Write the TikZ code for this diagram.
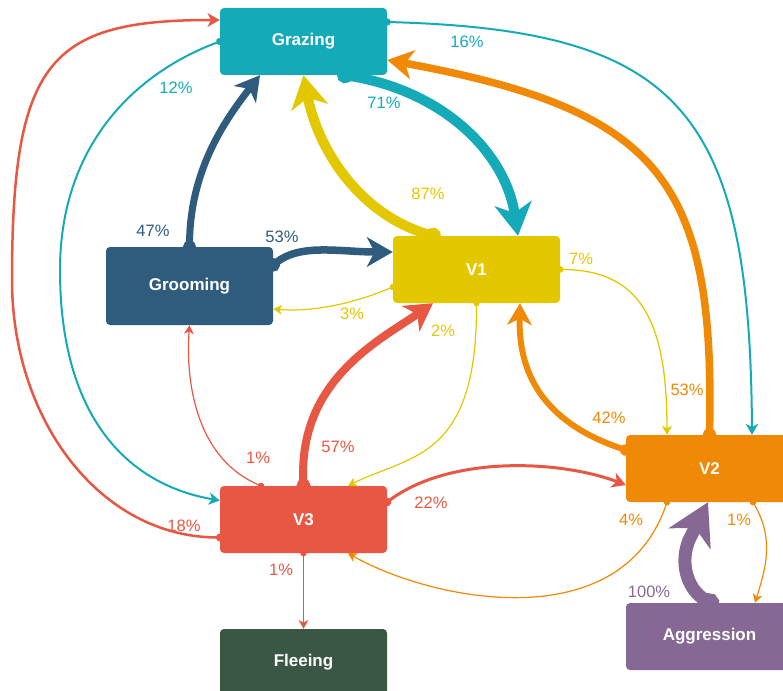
\documentclass[tikz,border=0pt]{standalone}
\usepackage{fontspec}
\setmainfont{Liberation Sans}
\usetikzlibrary{arrows.meta,positioning,calc}

\definecolor{grazecol}{HTML}{15AAB8}
\definecolor{groomcol}{HTML}{2F5B7C}
\definecolor{vonecol}{HTML}{E3C800}
\definecolor{vtwocol}{HTML}{F08A06}
\definecolor{vthreecol}{HTML}{E85743}
\definecolor{fleecol}{HTML}{3A5645}
\definecolor{aggrcol}{HTML}{856893}

\begin{document}
\begin{tikzpicture}[
    x=1pt, y=-1pt,
    state/.style={
        rounded corners=4pt,
        align=center,
        inner sep=0pt,
        minimum width=167pt,
        minimum height=67pt,
        text=white,
        font=\fontsize{17}{20}\selectfont\bfseries
    },
    pct/.style={
        font=\fontsize{16.5}{19}\selectfont
    },
    flow/.style={
        line width=#1pt,
        shorten <=-2.5pt-0.55*#1pt,
        {Circle[length=5pt 1.1]}-{Stealth[length=5.5pt 2.7, width=6pt 3.1, inset=1.5pt 0.8]}
    }
]

\useasboundingbox (0,0) rectangle (783,690);
\clip (0,0) rectangle (783,690);

% ------------------------------------------------
% Behaviours
% ------------------------------------------------

\node[state, fill=grazecol] (grazing) at (303.5, 41.5) {Grazing};
\node[state, fill=groomcol, minimum height=78pt] (grooming) at (189.5, 286) {Grooming};
\node[state, fill=vonecol] (v1) at (476.5, 269.5) {V1};
\node[state, fill=vtwocol] (v2) at (709.5, 468.5) {V2};
\node[state, fill=vthreecol] (v3) at (303.5, 519.5) {V3};
\node[state, fill=fleecol] (fleeing) at (303.5, 662.5) {Fleeing};
\node[state, fill=aggrcol] (aggression) at (709.5, 636.5) {Aggression};

% ------------------------------------------------
% Transitions from Grazing
% ------------------------------------------------

\draw[flow=2, grazecol]
    (grazing.west)
    .. controls (130,75) and (60,150) .. (60,270)
    .. controls (60,420) and (130,485) .. ([yshift=19pt]v3.west);
\draw[flow=2, grazecol]
    ([yshift=19.5pt]grazing.east)
    .. controls (680,30) and (750,110) .. ([xshift=42.5pt]v2.north);
\draw[flow=10, grazecol]
    ([xshift=41.5pt]grazing.south)
    .. controls (440,90) and (505,150) .. ([xshift=41.5pt]v1.north);

% ------------------------------------------------
% Transitions from Grooming
% ------------------------------------------------

\draw[flow=7, groomcol]
    (grooming.north)
    .. controls (190,170) and (225,120) .. ([xshift=-43.5pt]grazing.south);
\draw[flow=7.5, groomcol]
    ([yshift=21pt]grooming.east)
    .. controls (300,243) and (340,252) .. ([yshift=17.5pt]v1.west);

% ------------------------------------------------
% Transitions from V1
% ------------------------------------------------

\draw[flow=10, vonecol]
    ([xshift=-43.5pt]v1.north)
    .. controls (360,215) and (318,150) .. (grazing.south);
\draw[flow=1.2, vonecol]
    ([yshift=-17.5pt]v1.west)
    .. controls (350,305) and (310,312) .. ([yshift=-23pt]grooming.east);
\draw[flow=1.2, vonecol]
    (v1.south)
    .. controls (477,460) and (410,455) .. ([xshift=44.5pt]v3.north);
\draw[flow=1.3, vonecol]
    (v1.east)
    .. controls (640,270) and (667,320) .. ([xshift=-42.5pt]v2.north);

% ------------------------------------------------
% Transitions from V2
% ------------------------------------------------

\draw[flow=7.5, vtwocol]
    (v2.north)
    .. controls (715,180) and (660,110) .. ([yshift=-18.5pt]grazing.east);
\draw[flow=6, vtwocol]
    ([yshift=18.5pt]v2.west)
    .. controls (550,425) and (518,380) .. ([xshift=43.5pt]v1.south);
\draw[flow=1.2, vtwocol]
    ([xshift=-42.5pt]v2.south)
    .. controls (620,640) and (430,600) .. ([xshift=44.5pt]v3.south);
\draw[flow=1.2, vtwocol]
    ([xshift=43.5pt]v2.south)
    .. controls (775,540) and (765,570) .. ([xshift=45.5pt]aggression.north);

% ------------------------------------------------
% Transitions from V3
% ------------------------------------------------

\draw[flow=8, vthreecol]
    (v3.north)
    .. controls (298,380) and (380,340) .. ([xshift=-43.5pt]v1.south);
\draw[flow=1.2, vthreecol]
    ([xshift=-42.5pt]v3.north)
    .. controls (200,460) and (185,390) .. (grooming.south);
\draw[flow=3, vthreecol]
    ([yshift=17.5pt]v3.east)
    .. controls (450,455) and (560,460) .. ([yshift=-16.5pt]v2.west);
\draw[flow=2.5, vthreecol]
    ([yshift=-18pt]v3.west)
    .. controls (100,537) and (12,420) .. (12,280)
    .. controls (12,60) and (50,20) .. ([yshift=21.5pt]grazing.west);
\draw[flow=1.2, vthreecol] (v3.south) -- (fleeing.north);

% ------------------------------------------------
% Transitions from Aggression
% ------------------------------------------------

\draw[flow=13, aggrcol]
    (aggression.north)
    .. controls (686,588) and (680,562) .. (689,540)
    -- ([xshift=-1.5pt]v2.south);

% ------------------------------------------------
% Percentages
% ------------------------------------------------

\node[pct, text=grazecol] (pa) at (176,88) {12\%};
\node[pct, text=grazecol] (pb) at (467,42) {16\%};
\node[pct, text=grazecol] (pc) at (384,103) {71\%};
\node[pct, text=groomcol] (pd) at (153,231) {47\%};
\node[pct, text=groomcol] (pe) at (282,237) {53\%};
\node[pct, text=vonecol] (pf) at (428,194) {87\%};
\node[pct, text=vonecol] (pg) at (352,314) {3\%};
\node[pct, text=vonecol] (ph) at (443,331) {2\%};
\node[pct, text=vonecol] (pi) at (581,259) {7\%};
\node[pct, text=vtwocol] (pj) at (687,390) {53\%};
\node[pct, text=vtwocol] (pk) at (609,418) {42\%};
\node[pct, text=vtwocol] (pl) at (631,520) {4\%};
\node[pct, text=vtwocol] (pm) at (739,520) {1\%};
\node[pct, text=vthreecol] (pn) at (338,447) {57\%};
\node[pct, text=vthreecol] (po) at (258,458) {1\%};
\node[pct, text=vthreecol] (pp) at (431,503) {22\%};
\node[pct, text=vthreecol] (pq) at (184,526) {18\%};
\node[pct, text=vthreecol] (pr) at (281,570) {1\%};
\node[pct, text=aggrcol] (ps) at (649,592) {100\%};

\end{tikzpicture}
\end{document}
